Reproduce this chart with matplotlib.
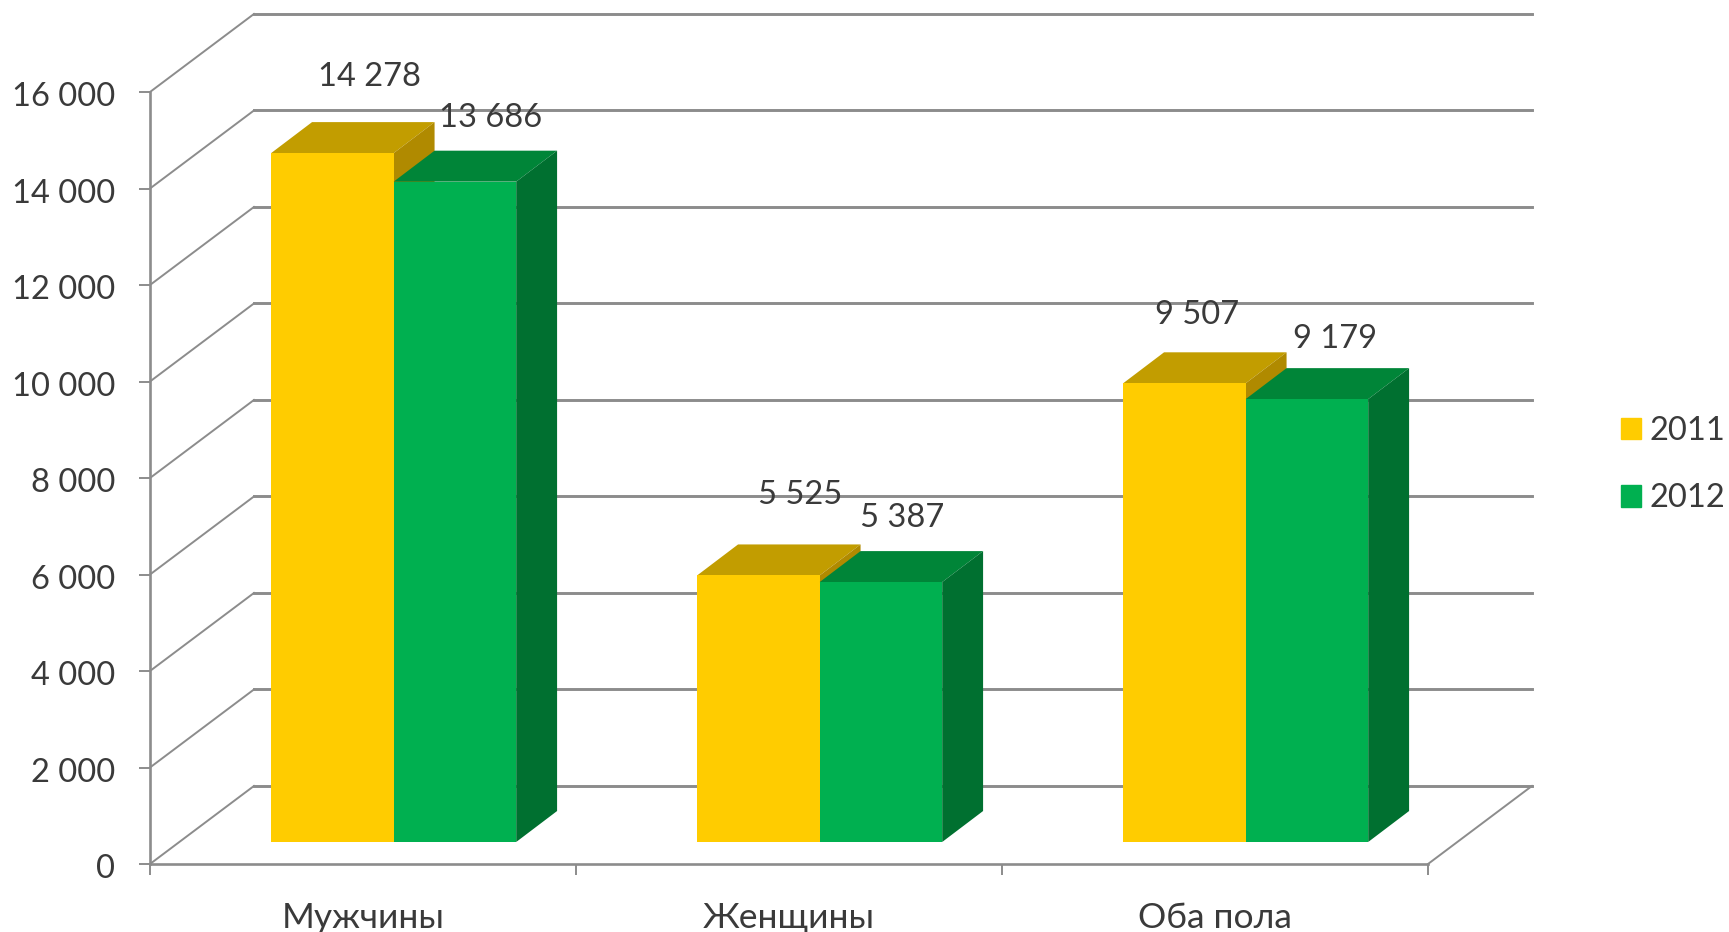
import numpy as np
import matplotlib
matplotlib.use("Agg")
import matplotlib.pyplot as plt
from matplotlib.patches import Polygon, Patch
from matplotlib.transforms import ScaledTranslation

plt.rcParams["font.family"] = ["Lato", "Open Sans", "DejaVu Sans"]

categories = ["Мужчины", "Женщины", "Оба пола"]
series_names = ["2011", "2012"]
values_2011 = [14278, 5525, 9507]
values_2012 = [13686, 5387, 9179]
y_ticks = [0, 2000, 4000, 6000, 8000, 10000, 12000, 14000, 16000]


def fmt(v):
    return f"{v:,}".replace(",", " ")


# 3d look, in data units
WALL_DX, WALL_DY = 0.244, 1617
BAR_DX, BAR_DY = 0.096, 642
BAR_FLOOR = 456
BAR_SHIFT = 0.072
BAR_WIDTH = 0.2876

GRID_COLOR = "#8c8c8c"
TEXT_COLOR = "#3a3a3a"
FONT_SIZE = 23.5
colors_2011 = ("#ffcc00", "#c29d00", "#b08a00")  # front, top, side
colors_2012 = ("#00b050", "#008538", "#007030")

# label offsets from the bar's front top centre, in points
offsets_2011 = [(27, 55), (30, 58), (9, 49)]
offsets_2012 = [(26, 46), (15, 46), (20, 43)]

fig = plt.figure(figsize=(17.29, 9.32), dpi=100, facecolor="white")
ax = fig.add_axes([150 / 1729, 1 - 864 / 932, 1278 / 1729, 772 / 932])
ax.set_xlim(0, 3)
ax.set_ylim(0, 16000)
ax.patch.set_alpha(0)

# back wall and floor lines
for v in y_ticks:
    ax.plot([0, WALL_DX], [v, v + WALL_DY], color=GRID_COLOR, lw=1.4, clip_on=False, zorder=1)
    ax.plot([WALL_DX, 3 + WALL_DX], [v + WALL_DY, v + WALL_DY], color=GRID_COLOR, lw=2.1, clip_on=False, zorder=1)
ax.plot([3, 3 + WALL_DX], [0, WALL_DY], color=GRID_COLOR, lw=1.4, clip_on=False, zorder=1)


def draw_bars(left, values, cols, z):
    ax.bar(left, values, BAR_WIDTH, bottom=BAR_FLOOR, align="edge", color=cols[0], zorder=z + 0.2)
    for x, v in zip(left, values):
        top = BAR_FLOOR + v
        ax.add_patch(Polygon([(x, top), (x + BAR_WIDTH, top), (x + BAR_WIDTH + BAR_DX, top + BAR_DY), (x + BAR_DX, top + BAR_DY)],
                             closed=True, fc=cols[1], ec="none", clip_on=False, zorder=z))
        ax.add_patch(Polygon([(x + BAR_WIDTH, BAR_FLOOR), (x + BAR_WIDTH + BAR_DX, BAR_FLOOR + BAR_DY),
                              (x + BAR_WIDTH + BAR_DX, top + BAR_DY), (x + BAR_WIDTH, top)],
                             closed=True, fc=cols[2], ec="none", clip_on=False, zorder=z))


centers = np.arange(3) + 0.5 + BAR_SHIFT
draw_bars(centers - BAR_WIDTH, values_2011, colors_2011, 3)
draw_bars(centers, values_2012, colors_2012, 4)

for i in range(3):
    ax.annotate(fmt(values_2011[i]), (centers[i] - BAR_WIDTH / 2, BAR_FLOOR + values_2011[i]), xytext=offsets_2011[i],
                textcoords="offset points", ha="center", va="center", fontsize=FONT_SIZE, color=TEXT_COLOR, zorder=6)
    ax.annotate(fmt(values_2012[i]), (centers[i] + BAR_WIDTH / 2, BAR_FLOOR + values_2012[i]), xytext=offsets_2012[i],
                textcoords="offset points", ha="center", va="center", fontsize=FONT_SIZE, color=TEXT_COLOR, zorder=6)

for side in ["top", "right"]:
    ax.spines[side].set_visible(False)
for side in ["left", "bottom"]:
    ax.spines[side].set_color(GRID_COLOR)
    ax.spines[side].set_linewidth(1.9)

ax.set_yticks(y_ticks, [fmt(v) for v in y_ticks])
ax.set_xticks([0, 1, 2, 3], [])
ax.set_xticks(np.arange(3) + 0.5, categories, minor=True)
ax.tick_params(axis="y", length=8, width=1.4, color=GRID_COLOR, pad=17, labelsize=FONT_SIZE, labelcolor=TEXT_COLOR)
ax.tick_params(axis="x", which="major", length=8, width=1.4, color=GRID_COLOR)
ax.tick_params(axis="x", which="minor", length=0, pad=27, labelsize=25.5, labelcolor=TEXT_COLOR)

# tick labels sit a little under their ticks
for lbl in ax.get_yticklabels():
    lbl.set_transform(lbl.get_transform() + ScaledTranslation(0, -1.5 / 72, fig.dpi_scale_trans))

handles = [Patch(color=colors_2011[0], label=series_names[0]), Patch(color=colors_2012[0], label=series_names[1])]
fig.legend(handles=handles, loc="center left", bbox_to_anchor=(1621 / 1729, 1 - 464.5 / 932), frameon=False,
           fontsize=FONT_SIZE, labelcolor=TEXT_COLOR, handlelength=0.62, handleheight=0.62, handletextpad=0.25,
           labelspacing=1.16, borderpad=0, borderaxespad=0)

fig.savefig("out.png", dpi=100)
